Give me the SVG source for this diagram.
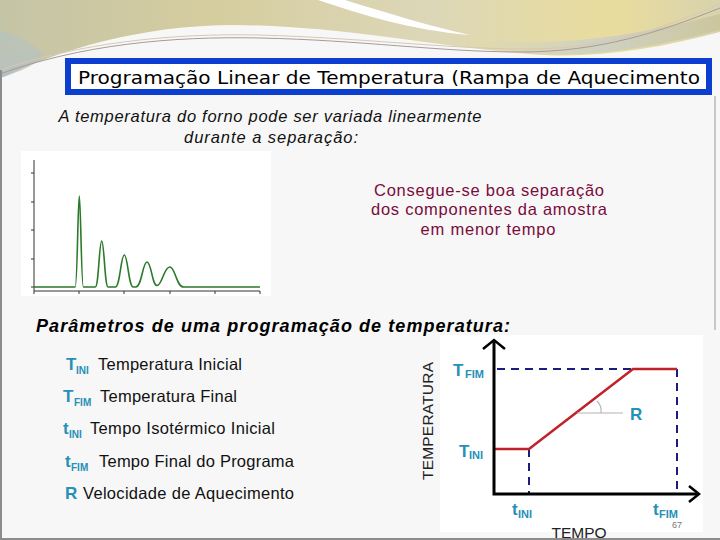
<svg xmlns="http://www.w3.org/2000/svg" width="720" height="540" viewBox="0 0 720 540">
<defs>
<linearGradient id="topg" x1="0" y1="0" x2="1" y2="0">
<stop offset="0" stop-color="#c4c4a6"/>
<stop offset="0.3" stop-color="#d6cd9f"/>
<stop offset="0.6" stop-color="#dcd7b8"/>
<stop offset="0.85" stop-color="#e9dc9c"/>
<stop offset="1" stop-color="#d8d3ae"/>
</linearGradient>
<linearGradient id="leftg" x1="0" y1="0" x2="0" y2="1">
<stop offset="0" stop-color="#cfc79f" stop-opacity="0"/>
<stop offset="1" stop-color="#aebfc2"/>
</linearGradient>
<linearGradient id="rightg" x1="0" y1="0" x2="1" y2="0">
<stop offset="0" stop-color="#c8cfcc" stop-opacity="0"/>
<stop offset="0.5" stop-color="#c8cfcc"/>
<stop offset="1" stop-color="#c9c39a"/>
</linearGradient>
</defs>
<style>
.sans{font-family:"Liberation Sans",Arial,sans-serif}
.teal{fill:#2690b6;font-weight:bold}
.lbl{font-family:"Liberation Sans",Arial,sans-serif;font-size:16.5px;fill:#111}
.mar{font-family:"Liberation Sans",Arial,sans-serif;font-size:16.5px;fill:#7a0c3c;text-anchor:middle}
.axis{stroke:#000;stroke-width:3;fill:none}
.dash{stroke:#1c1c7c;stroke-width:2;stroke-dasharray:8 6;fill:none}
</style>

<rect x="0" y="0" width="720" height="540" fill="#f7f7f7"/>

<!-- top decoration -->
<g id="decoration">
<path d="M0,0 H720 V32 C660,48 600,58 545,55 C450,50 350,26 235,25 C140,25 60,50 0,78 Z" fill="url(#topg)"/>
<path d="M0,40 C40,45 70,55 0,78 Z" fill="url(#leftg)"/>
<path d="M0,30 C30,40 50,55 40,60 C25,66 10,72 0,78 Z" fill="#b5c2c3" opacity="0.6"/>
<path d="M318,0 C360,14 410,30 470,35 C430,26 390,14 345,0 Z" fill="#ffffff"/>
<path d="M480,40 C560,48 640,35 720,14 V30 C660,46 600,56 545,55 C520,54 500,50 480,40 Z" fill="url(#rightg)" opacity="0.8"/>
<path d="M0,74 C80,45 170,36 260,38 C360,40 440,52 520,52 C600,52 660,32 720,8" fill="none" stroke="#a89a9a" stroke-width="1"/>
<path d="M0,70 C80,43 170,33 260,35 C360,38 440,48 520,49 C600,50 660,30 720,4" fill="none" stroke="#d8c8b0" stroke-width="1"/>
</g>

<!-- frame lines -->
<line x1="1" y1="70" x2="1" y2="540" stroke="#8c8c8c" stroke-width="2"/>
<line x1="0" y1="539" x2="720" y2="539" stroke="#8c8c8c" stroke-width="2"/>
<line x1="715" y1="96" x2="715" y2="330" stroke="#b8b8b8" stroke-width="1.5"/>

<!-- title -->
<g id="title">
<rect x="68" y="61" width="641" height="31" fill="#ffffff" stroke="#0c3ed0" stroke-width="6"/>
<text x="78" y="84" font-family="DejaVu Sans, sans-serif" font-size="18" fill="#000" textLength="622" lengthAdjust="spacingAndGlyphs">Programação Linear de Temperatura (Rampa de Aquecimento</text>
</g>

<!-- subtitle -->
<g id="subtitle" class="sans" font-size="16.5" font-style="italic" fill="#111" text-anchor="middle">
<text x="270" y="122" textLength="423">A temperatura do forno pode ser variada linearmente</text>
<text x="271" y="143" textLength="174">durante a separação:</text>
</g>

<!-- chromatogram -->
<g id="chromatogram">
<rect x="21" y="151" width="250" height="145" fill="#ffffff"/>
<g stroke="#333" stroke-width="1" fill="none">
<line x1="34" y1="160" x2="34" y2="291"/>
<line x1="34" y1="291" x2="260" y2="291"/>
<line x1="31" y1="173" x2="34" y2="173"/>
<line x1="31" y1="202" x2="34" y2="202"/>
<line x1="31" y1="230" x2="34" y2="230"/>
<line x1="31" y1="259" x2="34" y2="259"/>
<line x1="31" y1="287" x2="34" y2="287"/>
<line x1="34" y1="291" x2="34" y2="294"/>
<line x1="79" y1="291" x2="79" y2="294"/>
<line x1="124" y1="291" x2="124" y2="294"/>
<line x1="170" y1="291" x2="170" y2="294"/>
<line x1="215" y1="291" x2="215" y2="294"/>
<line x1="260" y1="291" x2="260" y2="294"/>
</g>
<path d="M34,287 H75.2 C77.4,287 77.9,196 79.3,196 C80.7,196 81.2,287 83.4,287 H95.3 C98.7,287 99.2,241 101.7,241 C104.2,241 104.7,287 108.1,287 H115.3 C120.1,287 120.8,255 124.3,255 C127.8,255 128.5,287 133.3,287 H135.8 C141.8,287 142.6,262 147,262 C151.4,262 152,285.5 157,285.5 C162,285.5 164,267 169.7,267 C175.4,267 176.2,287 183.7,287 H260" fill="none" stroke="#2a7a2a" stroke-width="1.6"/>
</g>

<!-- conclusion text -->
<g id="conclusion">
<text class="mar" x="489" y="196" textLength="230">Consegue-se boa separação</text>
<text class="mar" x="489" y="215" textLength="236">dos componentes da amostra</text>
<text class="mar" x="488" y="235" textLength="135">em menor tempo</text>
</g>

<!-- parameters heading -->
<text id="params-heading" class="sans" x="36" y="332" font-size="18" font-weight="bold" font-style="italic" fill="#000" textLength="474">Parâmetros de uma programação de temperatura:</text>

<!-- parameter list -->
<g id="param-tini">
<text class="sans teal" x="66" y="370" font-size="17">T</text>
<text class="sans teal" x="76" y="374" font-size="10">INI</text>
<text class="lbl" x="98" y="370" textLength="144">Temperatura Inicial</text>
</g>
<g id="param-tfim">
<text class="sans teal" x="63" y="402" font-size="17">T</text>
<text class="sans teal" x="74" y="406" font-size="10">FIM</text>
<text class="lbl" x="100" y="402" textLength="137">Temperatura Final</text>
</g>
<g id="param-tini-time">
<text class="sans teal" x="63" y="434" font-size="17">t</text>
<text class="sans teal" x="69" y="438" font-size="10">INI</text>
<text class="lbl" x="90" y="434" textLength="185">Tempo Isotérmico Inicial</text>
</g>
<g id="param-tfim-time">
<text class="sans teal" x="65" y="467" font-size="17">t</text>
<text class="sans teal" x="71" y="471" font-size="10">FIM</text>
<text class="lbl" x="99" y="467" textLength="195">Tempo Final do Programa</text>
</g>
<g id="param-r">
<text class="sans teal" x="65" y="499" font-size="17">R</text>
<text class="lbl" x="83" y="499" textLength="211">Velocidade de Aquecimento</text>
</g>

<!-- temperature program chart -->
<g id="temp-chart">
<rect x="440" y="335" width="263" height="197" fill="#ffffff"/>
<text class="sans" transform="translate(433,421) rotate(-90)" font-size="15.5" fill="#222" text-anchor="middle" textLength="118">TEMPERATURA</text>
<text class="sans" x="579" y="538" font-size="15.5" fill="#222" text-anchor="middle" textLength="55">TEMPO</text>
<g id="connectors">
<path class="dash" d="M497,369 H633"/>
<path class="dash" d="M529,449 V494"/>
<path class="dash" d="M677,369 V494"/>
<path d="M494,449 H529 L633,369 H677" fill="none" stroke="#c0222a" stroke-width="2.5"/>
<path d="M577,413 H623" stroke="#b4b4b4" stroke-width="1.2" fill="none"/>
<path d="M597,401 A14,14 0 0 1 601,413" stroke="#b4b4b4" stroke-width="1.2" fill="none"/>
<path class="axis" d="M494,342 V494 H697"/>
<path d="M483,349 L494,340 L505,349" fill="none" stroke="#000" stroke-width="2.5"/>
<path d="M689,486 L699,494 L689,502" fill="none" stroke="#000" stroke-width="2.5"/>
</g>
<text class="sans teal" x="453" y="376" font-size="17">T</text>
<text class="sans teal" x="465" y="378" font-size="11">FIM</text>
<text class="sans teal" x="459" y="457" font-size="17">T</text>
<text class="sans teal" x="469" y="459" font-size="11">INI</text>
<text class="sans teal" x="630" y="420" font-size="17">R</text>
<text class="sans teal" x="512" y="515" font-size="17">t</text>
<text class="sans teal" x="518" y="518" font-size="11">INI</text>
<text class="sans teal" x="653" y="515" font-size="17">t</text>
<text class="sans teal" x="659" y="518" font-size="11">FIM</text>
<text class="sans" x="672" y="528" font-size="9" fill="#777">67</text>
</g>
</svg>
